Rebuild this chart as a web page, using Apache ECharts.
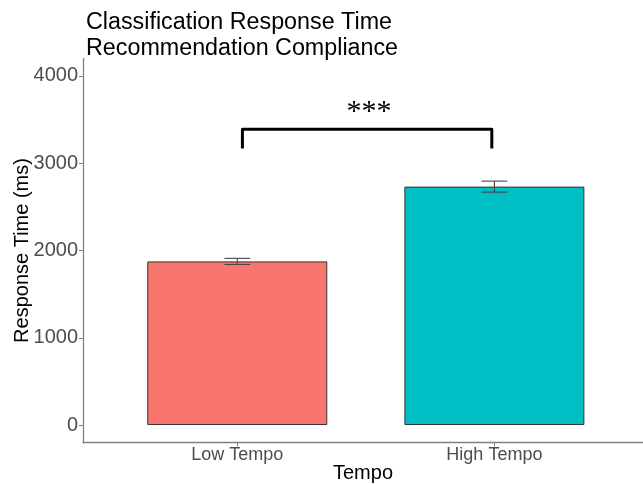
<!DOCTYPE html>
<html><head><meta charset="utf-8">
<script src="https://cdn.jsdelivr.net/npm/echarts@6/dist/echarts.min.js"></script>
<style>html,body{margin:0;padding:0;background:#fff}#c{width:643px;height:484px}</style>
</head><body><div id="c"></div>
<script>
// ---- data ----
const categories = ['Low Tempo', 'High Tempo'];
const categoryPositions = [1, 2];
const meanRT = [1875, 2732];
const errRT = [35, 63];
const yTicks = [0, 1000, 2000, 3000, 4000];
const sigStart = [1.02];
const sigEnd = [1.99];
const sigBarY = [3390];
const sigTipY = [3170];
const sigLabel = ['***'];

// ---- styles ----
const barColors = ['#F8766D', '#00BFC4'];
const FONT = "'Liberation Sans', Arial, sans-serif";

const chart = echarts.init(document.getElementById('c'), null, {renderer: 'canvas'});

const barData = categoryPositions.map((x, i) => ({
  value: [x, meanRT[i]],
  itemStyle: {color: barColors[i], borderColor: '#333333', borderWidth: 1}
}));
const errData = categoryPositions.map((x, i) => [x, meanRT[i] - errRT[i], meanRT[i] + errRT[i]]);
const sigData = sigStart.map((s, i) => [s, sigEnd[i], sigBarY[i], sigTipY[i]]);

chart.setOption({
  animation: false,
  backgroundColor: '#ffffff',
  title: {
    text: 'Classification Response Time\nRecommendation Compliance',
    left: 81, top: 5,
    textStyle: {fontFamily: FONT, fontSize: 23.3, fontWeight: 'normal', color: '#000', lineHeight: 26}
  },
  grid: {left: 83, right: 0, top: 58.5, bottom: 41.5, containLabel: false, outerBoundsMode: 'none'},
  xAxis: {
    type: 'value', min: 0.4, max: 2.578,
    name: 'Tempo', nameLocation: 'middle', nameGap: 31, nameMoveOverlap: false,
    nameTextStyle: {fontFamily: FONT, fontSize: 20, color: '#000', verticalAlign: 'middle'},
    axisLine: {show: true, onZero: false, lineStyle: {color: '#808080', width: 1.3}},
    axisTick: {show: true, customValues: categoryPositions, length: 4, lineStyle: {color: '#808080'}},
    axisLabel: {customValues: categoryPositions, formatter: v => categories[categoryPositions.indexOf(v)] || '',
      fontFamily: FONT, fontSize: 18, color: '#4D4D4D', margin: 4},
    splitLine: {show: false}
  },
  yAxis: {
    type: 'value', min: -200, max: 4200,
    name: 'Response Time (ms)', nameLocation: 'middle', nameGap: 61, nameRotate: 90, nameMoveOverlap: false,
    nameTextStyle: {fontFamily: FONT, fontSize: 20, color: '#000', verticalAlign: 'middle'},
    axisLine: {show: true, onZero: false, lineStyle: {color: '#808080', width: 1.3}},
    axisTick: {show: true, customValues: yTicks, length: 4, lineStyle: {color: '#808080'}},
    axisLabel: {customValues: yTicks, formatter: v => String(v), fontFamily: FONT, fontSize: 20, color: '#4D4D4D', margin: 5},
    splitLine: {show: false}
  },
  series: [
    {
      type: 'bar', data: barData, barWidth: 180, z: 2
    },
    {
      type: 'custom', data: errData, z: 3,
      renderItem: (params, api) => {
        const x = api.value(0);
        const lo = api.coord([x, api.value(1)]);
        const hi = api.coord([x, api.value(2)]);
        const hw = api.size([0.05, 0])[0];
        const st = {stroke: '#444', lineWidth: 1.1};
        return {type: 'group', children: [
          {type: 'line', shape: {x1: hi[0] - hw, y1: hi[1], x2: hi[0] + hw, y2: hi[1]}, style: st},
          {type: 'line', shape: {x1: hi[0], y1: hi[1], x2: lo[0], y2: lo[1]}, style: st},
          {type: 'line', shape: {x1: lo[0] - hw, y1: lo[1], x2: lo[0] + hw, y2: lo[1]}, style: st}
        ]};
      }
    },
    {
      type: 'custom', data: sigData, z: 4,
      renderItem: (params, api) => {
        const a = api.coord([api.value(0), api.value(3)]);
        const b = api.coord([api.value(0), api.value(2)]);
        const c = api.coord([api.value(1), api.value(2)]);
        const d = api.coord([api.value(1), api.value(3)]);
        return {type: 'group', children: [
          {type: 'polyline', shape: {points: [a, b, c, d]},
           style: {stroke: '#000', lineWidth: 3, fill: null, lineJoin: 'round', lineCap: 'butt'}},
          {type: 'text', x: (b[0] + c[0]) / 2 + 2, y: b[1] - 17,
           style: {text: sigLabel[params.dataIndex], fontFamily: "'Liberation Serif', 'DejaVu Serif', serif",
                   fontSize: 30, fill: '#000', align: 'center', verticalAlign: 'middle'}}
        ]};
      }
    }
  ]
});
</script></body></html>
